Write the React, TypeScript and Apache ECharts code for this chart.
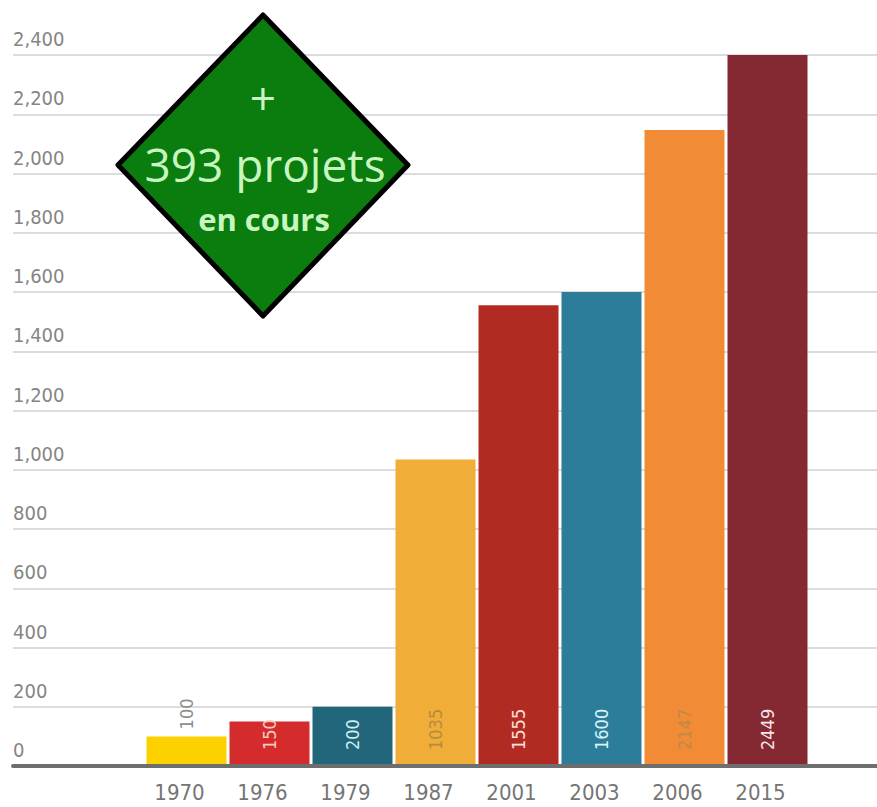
import React, { useEffect, useRef } from "react";
import * as echarts from "echarts";

const YEARS = ["1970", "1976", "1979", "1987", "2001", "2003", "2006", "2015"];
const PROJECTS = [100, 150, 200, 1035, 1555, 1600, 2147, 2449];
const Y_MIN = 0;
const Y_MAX = 2400;
const Y_STEP = 200;
const BADGE_LINES = ["+", "393 projets", "en cours"];

const BAR_COLORS = ["#fdd000", "#d42c2c", "#21667a", "#f0ae38", "#b12b22", "#2c7d9a", "#f28b35", "#842831"];
const LABEL_COLORS = ["#8f8f8f", "#f8c8c0", "#cdeef2", "#b48c40", "#fde0da", "#d8f4f8", "#c28848", "#f6e6ea"];

const NUM_FONT = "'DejaVu Sans Condensed', 'DejaVu Sans', sans-serif";

export default function App() {
  const ref = useRef<HTMLDivElement>(null);
  useEffect(() => {
    if (!ref.current) return;
    const chart = echarts.init(ref.current, null, { renderer: "svg" });
    const top = 55;
    const bottom = 41;
    const option: any = {
      animation: false,
      backgroundColor: "#ffffff",
      grid: [
        { left: 13, right: 0, top, bottom },
        { left: 145, width: 664, top, bottom },
      ],
      xAxis: [
        {
          gridIndex: 0,
          type: "category",
          data: [""],
          axisLine: { show: true, lineStyle: { color: "#6e6e6e", width: 4 } },
          axisTick: { show: false },
          axisLabel: { show: false },
          z: 5,
        },
        {
          gridIndex: 1,
          type: "category",
          data: YEARS,
          axisLine: { show: false },
          axisTick: { show: false },
          axisLabel: {
            color: "#757575",
            fontSize: 22,
            lineHeight: 22,
            fontFamily: NUM_FONT,
            margin: 15,
            padding: [0, 14, 0, 0],
          },
        },
      ],
      yAxis: [
        {
          gridIndex: 0,
          type: "value",
          min: Y_MIN,
          max: Y_MAX,
          interval: Y_STEP,
          axisLine: { show: false },
          axisTick: { show: false },
          splitLine: { show: true, lineStyle: { color: "#dcdcdc", width: 2 } },
          axisLabel: {
            inside: true,
            margin: 0,
            color: "#858585",
            fontSize: 20,
            fontFamily: NUM_FONT,
            verticalAlign: "bottom",
            align: "left",
            padding: [0, 0, 6, 0],
            formatter: (v: number) => v.toLocaleString("en-US"),
          },
        },
        {
          gridIndex: 1,
          type: "value",
          min: Y_MIN,
          max: Y_MAX,
          interval: Y_STEP,
          show: false,
          splitLine: { show: false },
        },
      ],
      series: [
        {
          type: "bar",
          xAxisIndex: 1,
          yAxisIndex: 1,
          barWidth: 80,
          z: 3,
          data: PROJECTS.map((v, i) => ({
            value: v,
            itemStyle: { color: BAR_COLORS[i] },
            label: {
              show: true,
              rotate: 90,
              align: "left",
              verticalAlign: "middle",
              position: v < 120 ? "top" : "insideBottom",
              distance: v < 120 ? 7 : 16,
              color: LABEL_COLORS[i],
              fontSize: 18,
              fontFamily: NUM_FONT,
            },
          })),
        },
      ],
      graphic: [
        {
          type: "polygon",
          shape: {
            points: [
              [263, 15],
              [408, 165],
              [263, 316],
              [118, 165],
            ],
          },
          style: { fill: "#0b7c0e", stroke: "#000000", lineWidth: 5, lineJoin: "round" },
          z: 10,
        },
        {
          type: "text",
          x: 263,
          y: 97,
          style: {
            text: BADGE_LINES[0],
            fill: "#c8f6c0",
            fontSize: 46,
            fontFamily: "'Open Sans', sans-serif",
            align: "center",
            verticalAlign: "middle",
          },
          z: 11,
        },
        {
          type: "text",
          x: 265,
          y: 164,
          style: {
            text: BADGE_LINES[1],
            fill: "#c8f6c0",
            fontSize: 46,
            fontFamily: "'Open Sans', sans-serif",
            align: "center",
            verticalAlign: "middle",
          },
          z: 11,
        },
        {
          type: "text",
          x: 264,
          y: 219,
          style: {
            text: BADGE_LINES[2],
            fill: "#c8f6c0",
            fontSize: 31,
            fontWeight: "bold",
            fontFamily: "'Open Sans', sans-serif",
            align: "center",
            verticalAlign: "middle",
          },
          z: 11,
        },
      ],
    };
    chart.setOption(option);
    return () => chart.dispose();
  }, []);
  return (
    <div
      ref={ref}
      style={{ position: "absolute", left: 0, top: 0, width: 877, height: 807, background: "#fff" }}
    />
  );
}
